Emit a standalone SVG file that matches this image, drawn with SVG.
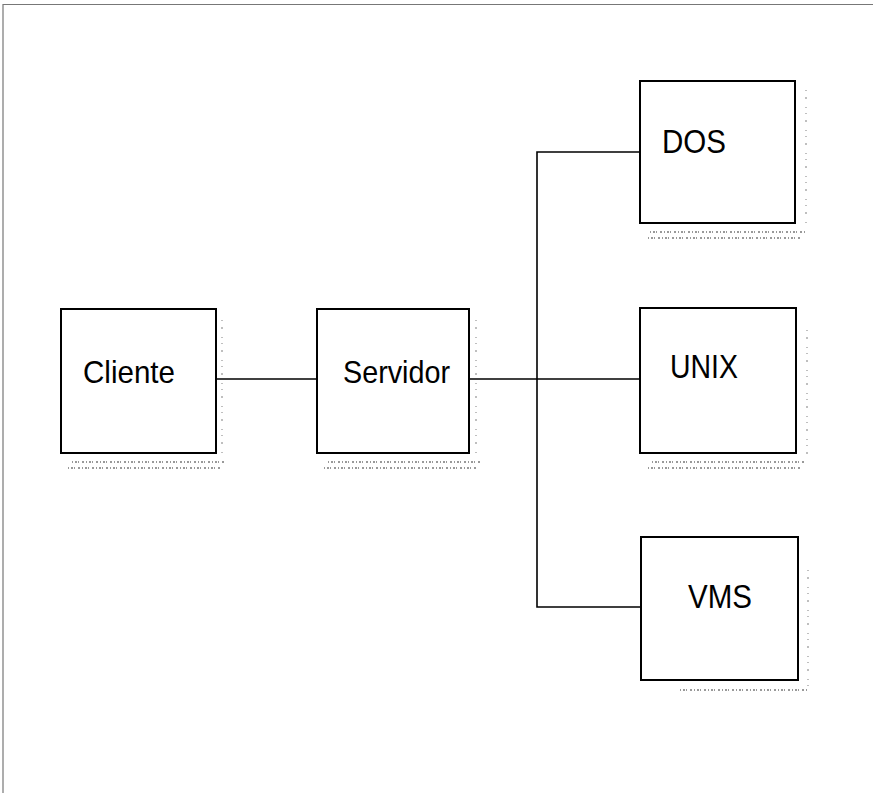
<svg xmlns="http://www.w3.org/2000/svg" width="873" height="793" viewBox="0 0 873 793">
<style>
.box{fill:#fff;stroke:#000;stroke-width:2}
.lbl{font-family:"Liberation Sans",Arial,sans-serif;font-size:32px;fill:#000}
.big{font-size:33px}
.con{fill:none;stroke:#000;stroke-width:1.6}
.frame{fill:none;stroke:#777;stroke-width:1.2}
.spk{fill:none;stroke:#999;stroke-width:2;stroke-dasharray:1 2 2 1 1 3 2 2}
.spkv{fill:none;stroke:#aaa;stroke-width:1.5;stroke-dasharray:1 6 2 8 1 5}
</style>
<rect width="873" height="793" fill="#fff"/>
<path class="frame" d="M3,793 V4.5 H873"/>
<g id="shadows">
<path class="spk" d="M72,462 H225 M68,468 H222"/>
<path class="spk" d="M328,462 H480 M324,468 H476"/>
<path class="spk" d="M650,232 H806 M648,238 H802"/>
<path class="spk" d="M652,462 H806 M648,468 H802"/>
<path class="spk" d="M680,690 H808"/>
<path class="spkv" d="M222,320 V458"/>
<path class="spkv" d="M476,320 V458"/>
<path class="spkv" d="M806,90 V228"/>
<path class="spkv" d="M807,330 V458"/>
<path class="spkv" d="M808,570 V690"/>
</g>
<g id="connectors">
<path class="con" d="M216,379 H317"/>
<path class="con" d="M469,379 H640"/>
<path class="con" d="M640,152 H537 V607 H641"/>
</g>
<g id="cliente">
<rect class="box" x="61" y="309" width="155" height="144"/>
<text class="lbl" x="83" y="383" textLength="92" lengthAdjust="spacingAndGlyphs">Cliente</text>
</g>
<g id="servidor">
<rect class="box" x="317" y="309" width="152" height="144"/>
<text class="lbl" x="343" y="383" textLength="107" lengthAdjust="spacingAndGlyphs">Servidor</text>
</g>
<g id="dos">
<rect class="box" x="640" y="81" width="155" height="142"/>
<text class="lbl big" x="662" y="153" textLength="64" lengthAdjust="spacingAndGlyphs">DOS</text>
</g>
<g id="unix">
<rect class="box" x="640" y="308" width="156" height="145"/>
<text class="lbl big" x="670" y="378" textLength="68" lengthAdjust="spacingAndGlyphs">UNIX</text>
</g>
<g id="vms">
<rect class="box" x="641" y="537" width="157" height="143"/>
<text class="lbl big" x="688" y="608" textLength="64" lengthAdjust="spacingAndGlyphs">VMS</text>
</g>
</svg>
